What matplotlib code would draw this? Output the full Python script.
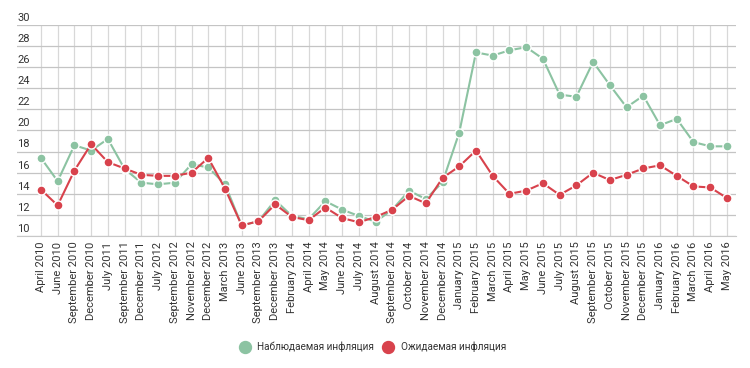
import matplotlib.pyplot as plt
import matplotlib.transforms as mtransforms
from matplotlib.lines import Line2D

plt.rcParams['font.family'] = ['Roboto', 'DejaVu Sans']

months = ['April 2010', 'June 2010', 'September 2010', 'December 2010', 'July 2011',
          'September 2011', 'December 2011', 'July 2012', 'September 2012', 'November 2012',
          'December 2012', 'March 2013', 'June 2013', 'September 2013', 'December 2013',
          'February 2014', 'April 2014', 'May 2014', 'June 2014', 'July 2014',
          'August 2014', 'September 2014', 'October 2014', 'November 2014', 'December 2014',
          'January 2015', 'February 2015', 'March 2015', 'April 2015', 'May 2015',
          'June 2015', 'July 2015', 'August 2015', 'September 2015', 'October 2015',
          'November 2015', 'December 2015', 'January 2016', 'February 2016', 'March 2016',
          'April 2016', 'May 2016']

observed = [17.4, 15.2, 18.6, 18.1, 19.2, 16.35, 15.05, 14.9, 15.05, 16.8,
            16.5, 14.9, 11.0, 11.4, 13.4, 11.9, 11.6, 13.3, 12.5, 11.9,
            11.35, 12.5, 14.3, 13.5, 15.1, 19.8, 27.4, 27.1, 27.6, 27.9,
            26.8, 23.4, 23.2, 26.5, 24.3, 22.2, 23.3, 20.5, 21.1, 18.9,
            18.5, 18.5]

expected = [14.4, 12.9, 16.2, 18.7, 17.0, 16.4, 15.8, 15.7, 15.7, 16.0,
            17.4, 14.5, 11.0, 11.4, 13.0, 11.8, 11.5, 12.7, 11.7, 11.3,
            11.8, 12.5, 13.8, 13.1, 15.5, 16.6, 18.1, 15.7, 14.0, 14.3,
            15.0, 13.9, 14.8, 16.0, 15.3, 15.8, 16.4, 16.7, 15.7, 14.7,
            14.6, 13.6]

yticks = [10, 12, 14, 16, 18, 20, 22, 24, 26, 28, 30]

green = '#8cc3a2'
red = '#d8424c'

fig = plt.figure(figsize=(7.5, 3.68), dpi=100)
ax = fig.add_axes([17 / 750, 1 - 236 / 368, (736 - 17) / 750, (236 - 25) / 368])

x = list(range(len(months)))
ax.plot(x, observed, color=green, lw=1.5, marker='o', ms=6.5, mec='white', mew=1, zorder=3)
ax.plot(x, expected, color=red, lw=1.5, marker='o', ms=6.5, mec='white', mew=1, zorder=4)

ax.set_xlim(-1.43, len(months) - 1 + 0.54)
ax.set_ylim(10, 30)
ax.set_xticks(x)
ax.set_xticklabels(months, rotation=90, fontsize=8, color='#333333')
ax.set_yticks(yticks)
ax.set_yticklabels([])
ax.tick_params(axis='both', length=0, pad=4)
ax.tick_params(axis='y', pad=0)

ax.grid(True, axis='x', color='#d8d8d8', lw=0.9)
ax.grid(True, axis='y', color='#c4c4c4', lw=0.9)
ax.set_axisbelow(True)
for s in ['top', 'right', 'left']:
    ax.spines[s].set_visible(False)
ax.spines['bottom'].set_color('#c8c8c8')

trans = mtransforms.blended_transform_factory(ax.transAxes, ax.transData)
for v in yticks:
    ax.text(0.0, v + 0.2, str(v), transform=trans, fontsize=8, color='#333333',
            ha='left', va='bottom')

handles = [Line2D([], [], ls='none', marker='o', ms=8.6, color=green, mec=green),
           Line2D([], [], ls='none', marker='o', ms=8.6, color=red, mec=red)]
fig.legend(handles, ['Наблюдаемая инфляция', 'Ожидаемая инфляция'], loc='center',
           bbox_to_anchor=(0.497, 1 - 347 / 368), ncol=2, frameon=False, fontsize=7.2,
           handlelength=1.0, handletextpad=0.75, columnspacing=0.9, labelcolor='#333333')

fig.savefig('out.png', dpi=100)
